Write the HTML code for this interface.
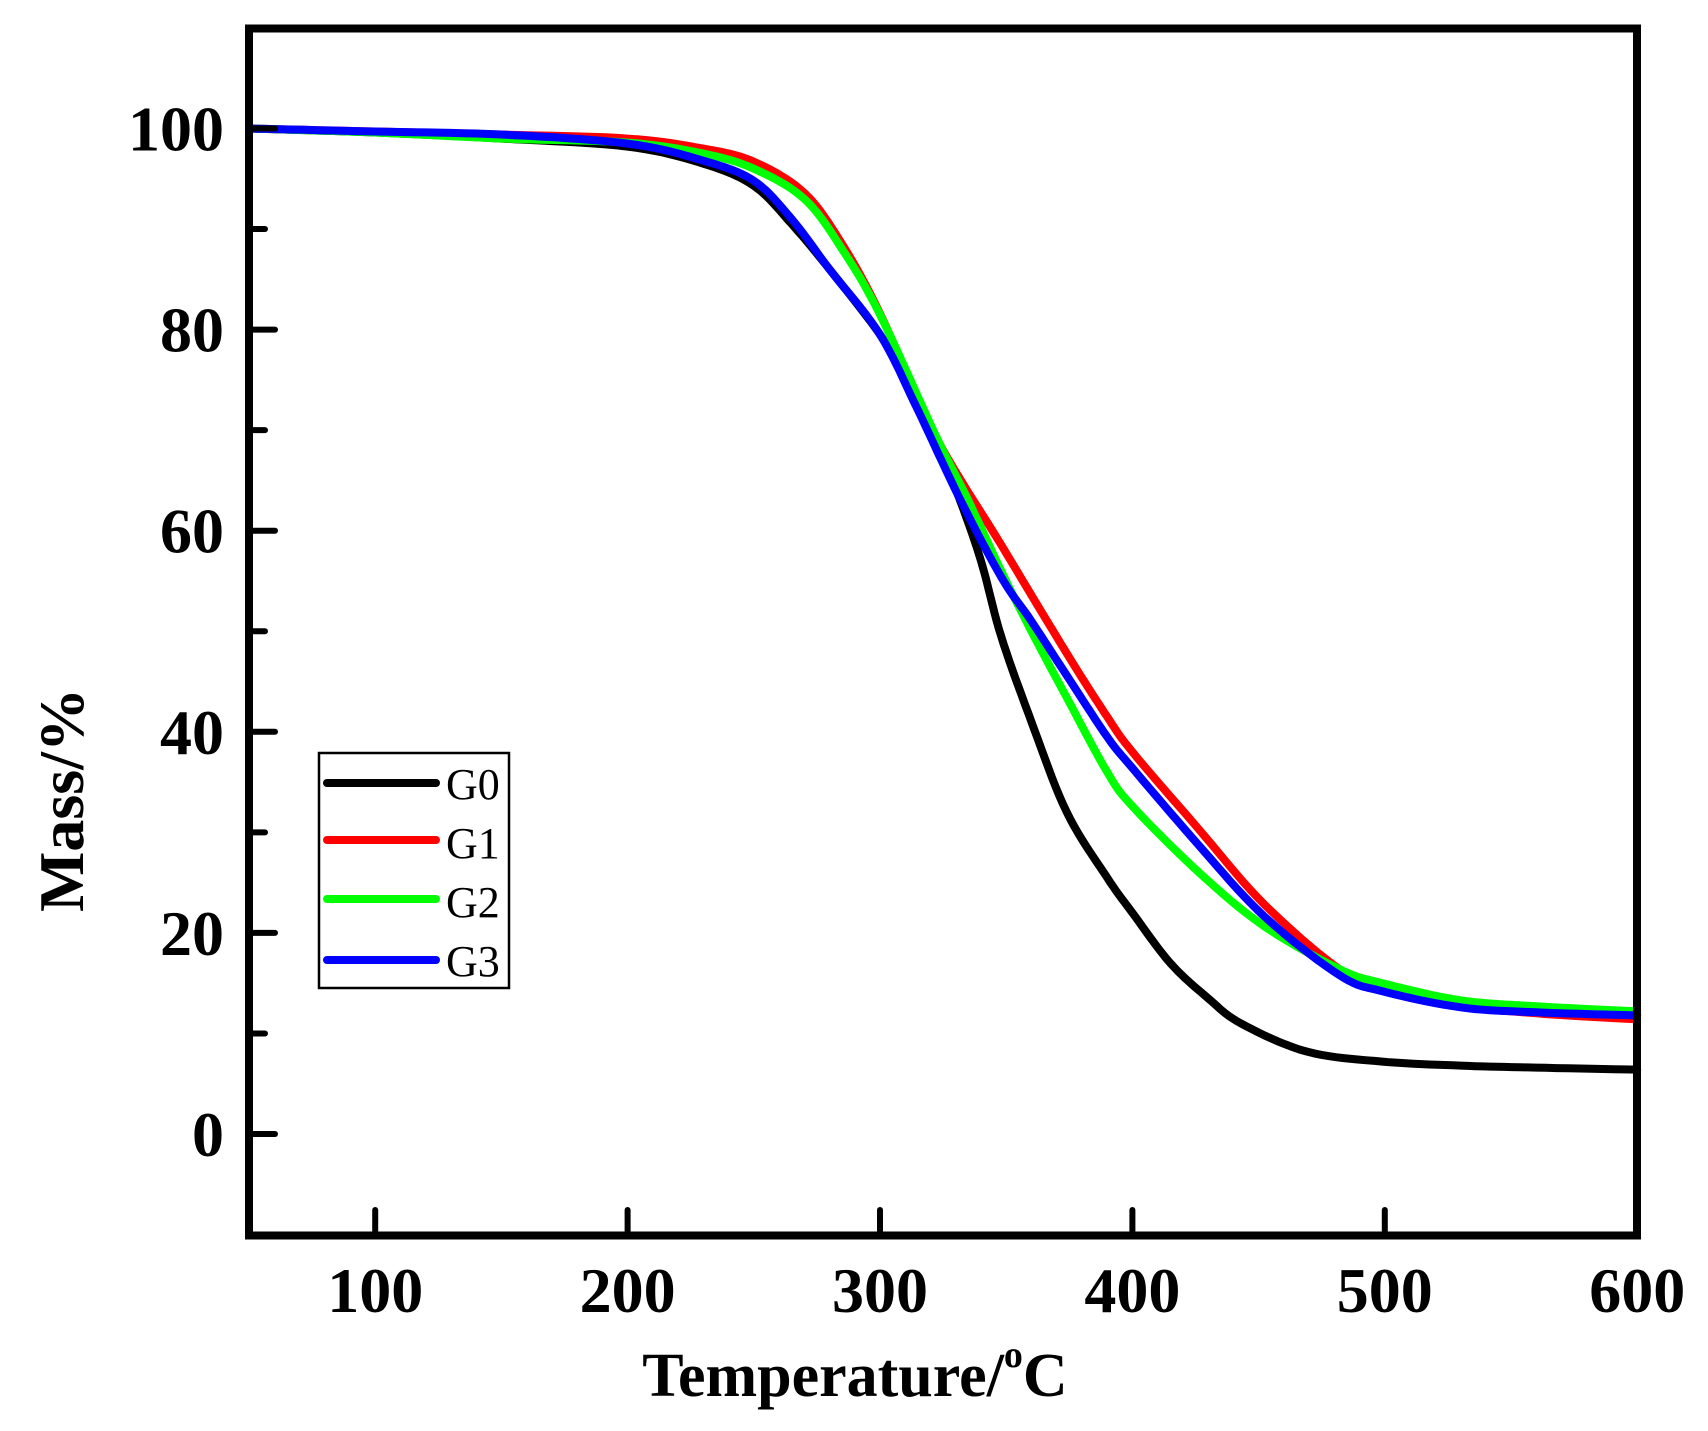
<!DOCTYPE html>
<html><head><meta charset="utf-8"><style>
html,body{margin:0;padding:0;background:#fff}
svg{display:block}
text{font-family:"Liberation Serif",serif}
</style></head><body>
<svg id="s" width="1708" height="1431" viewBox="0 0 1708 1431" xmlns="http://www.w3.org/2000/svg">
<g id="curves" fill="none" stroke-width="8" stroke-linejoin="round" stroke-linecap="round"></g>
<rect x="249" y="28.5" width="1388" height="1207" fill="none" stroke="#000" stroke-width="8"/>
<g id="ticks" stroke="#000" stroke-width="6" stroke-linecap="round"></g>
<g font-weight="bold" font-size="64" fill="#000">
<g text-anchor="middle" id="xl"></g>
<g text-anchor="end" id="yl"></g>
<text x="855" y="1396" text-anchor="middle" font-size="62">Temperature/<tspan font-size="38" dy="-29">o</tspan><tspan dy="29">C</tspan></text>
<text transform="translate(83,800) rotate(-90)" text-anchor="middle">Mass/%</text>
</g>
<rect x="319" y="753" width="190" height="235" fill="#fff" stroke="#000" stroke-width="2.5"/>
<g stroke-width="8" stroke-linecap="round">
<line x1="327" y1="783" x2="436" y2="783" stroke="#000"/>
<line x1="327" y1="840" x2="436" y2="840" stroke="#f00"/>
<line x1="327" y1="899" x2="436" y2="899" stroke="#0f0"/>
<line x1="327" y1="960" x2="436" y2="960" stroke="#00f"/>
</g>
<g font-size="44" fill="#000">
<text x="446" y="799">G0</text><text x="446" y="858">G1</text>
<text x="446" y="917">G2</text><text x="446" y="976">G3</text>
</g>
</svg>
<script>
var NS="http://www.w3.org/2000/svg";
function X(v){return 249+(v-50)*2.524}
function Y(v){return 128.5+(100-v)*10.055}
var tk=document.getElementById('ticks'),xl=document.getElementById('xl'),yl=document.getElementById('yl');
function el(p,t,a,txt){var e=document.createElementNS(NS,t);for(var k in a)e.setAttribute(k,a[k]);if(txt)e.textContent=txt;p.appendChild(e);}
for(var v=100;v<=600;v+=100){if(v<600)el(tk,'line',{x1:X(v),y1:1232,x2:X(v),y2:1210});el(xl,'text',{x:X(v),y:1312},String(v));}
for(var v=0;v<=100;v+=20){el(tk,'line',{x1:253,y1:Y(v),x2:275,y2:Y(v)});el(yl,'text',{x:224,y:Y(v)+22},String(v));}
for(var v=10;v<=90;v+=20){el(tk,'line',{x1:253,y1:Y(v),x2:265,y2:Y(v)});}
var D={
"#000":[[50,100],[100,99.6],[150,99],[200,98.2],[230,96.5],[250,94.3],[265,90.5],[280,86],[300,79.5],[310,75],[320,70.5],[331,63.5],[340,57],[348,49.5],[360,41],[374,32],[390,25.5],[400,22],[415,17],[430,13.5],[443,11],[469,8.2],[499,7.2],[530,6.8],[560,6.6],[600,6.4]],
"#f00":[[50,100],[100,99.7],[150,99.4],[200,99],[230,98],[250,96.7],[270,93.6],[285,88.5],[300,81.6],[322,69.4],[348,58.6],[374,47.8],[390,41.5],[400,38],[426,30.4],[452,22.9],[482,16.4],[499,14.7],[530,12.8],[560,12],[600,11.4]],
"#0f0":[[50,100],[100,99.6],[150,99],[200,98.6],[230,97.5],[250,96],[270,93],[285,88],[300,81.5],[322,69.5],[335,63],[348,56],[360,50],[374,43.4],[390,36],[400,32.6],[426,26.1],[452,20.7],[482,16.4],[499,15],[530,13.3],[560,12.7],[600,12.2]],
"#00f":[[50,100],[100,99.7],[150,99.4],[200,98.5],[230,96.8],[250,94.8],[265,91],[280,86],[300,79.5],[315,72],[331,63.5],[348,55.4],[360,51],[374,45.6],[390,39.5],[400,36.4],[426,28.8],[452,21.7],[482,15.8],[499,14.2],[530,12.6],[560,12.1],[600,11.8]]};
var g=document.getElementById('curves');
for(var c in D){var p=D[c],d='';
 for(var i=0;i<p.length-1;i++){var p0=p[Math.max(0,i-1)],p1=p[i],p2=p[i+1],p3=p[Math.min(p.length-1,i+2)];
  for(var t=0;t<1;t+=0.1){var t2=t*t,t3=t2*t;
   var f=function(a,b,c2,e){return 0.5*((2*b)+(-a+c2)*t+(2*a-5*b+4*c2-e)*t2+(-a+3*b-3*c2+e)*t3)};
   var xx=f(p0[0],p1[0],p2[0],p3[0]),yy=f(p0[1],p1[1],p2[1],p3[1]);
   d+=(d?'L':'M')+X(xx).toFixed(1)+','+Y(yy).toFixed(1);}}
 d+='L'+X(p[p.length-1][0])+','+Y(p[p.length-1][1]);
 el(g,'path',{d:d,stroke:c});}
</script>
</body></html>
